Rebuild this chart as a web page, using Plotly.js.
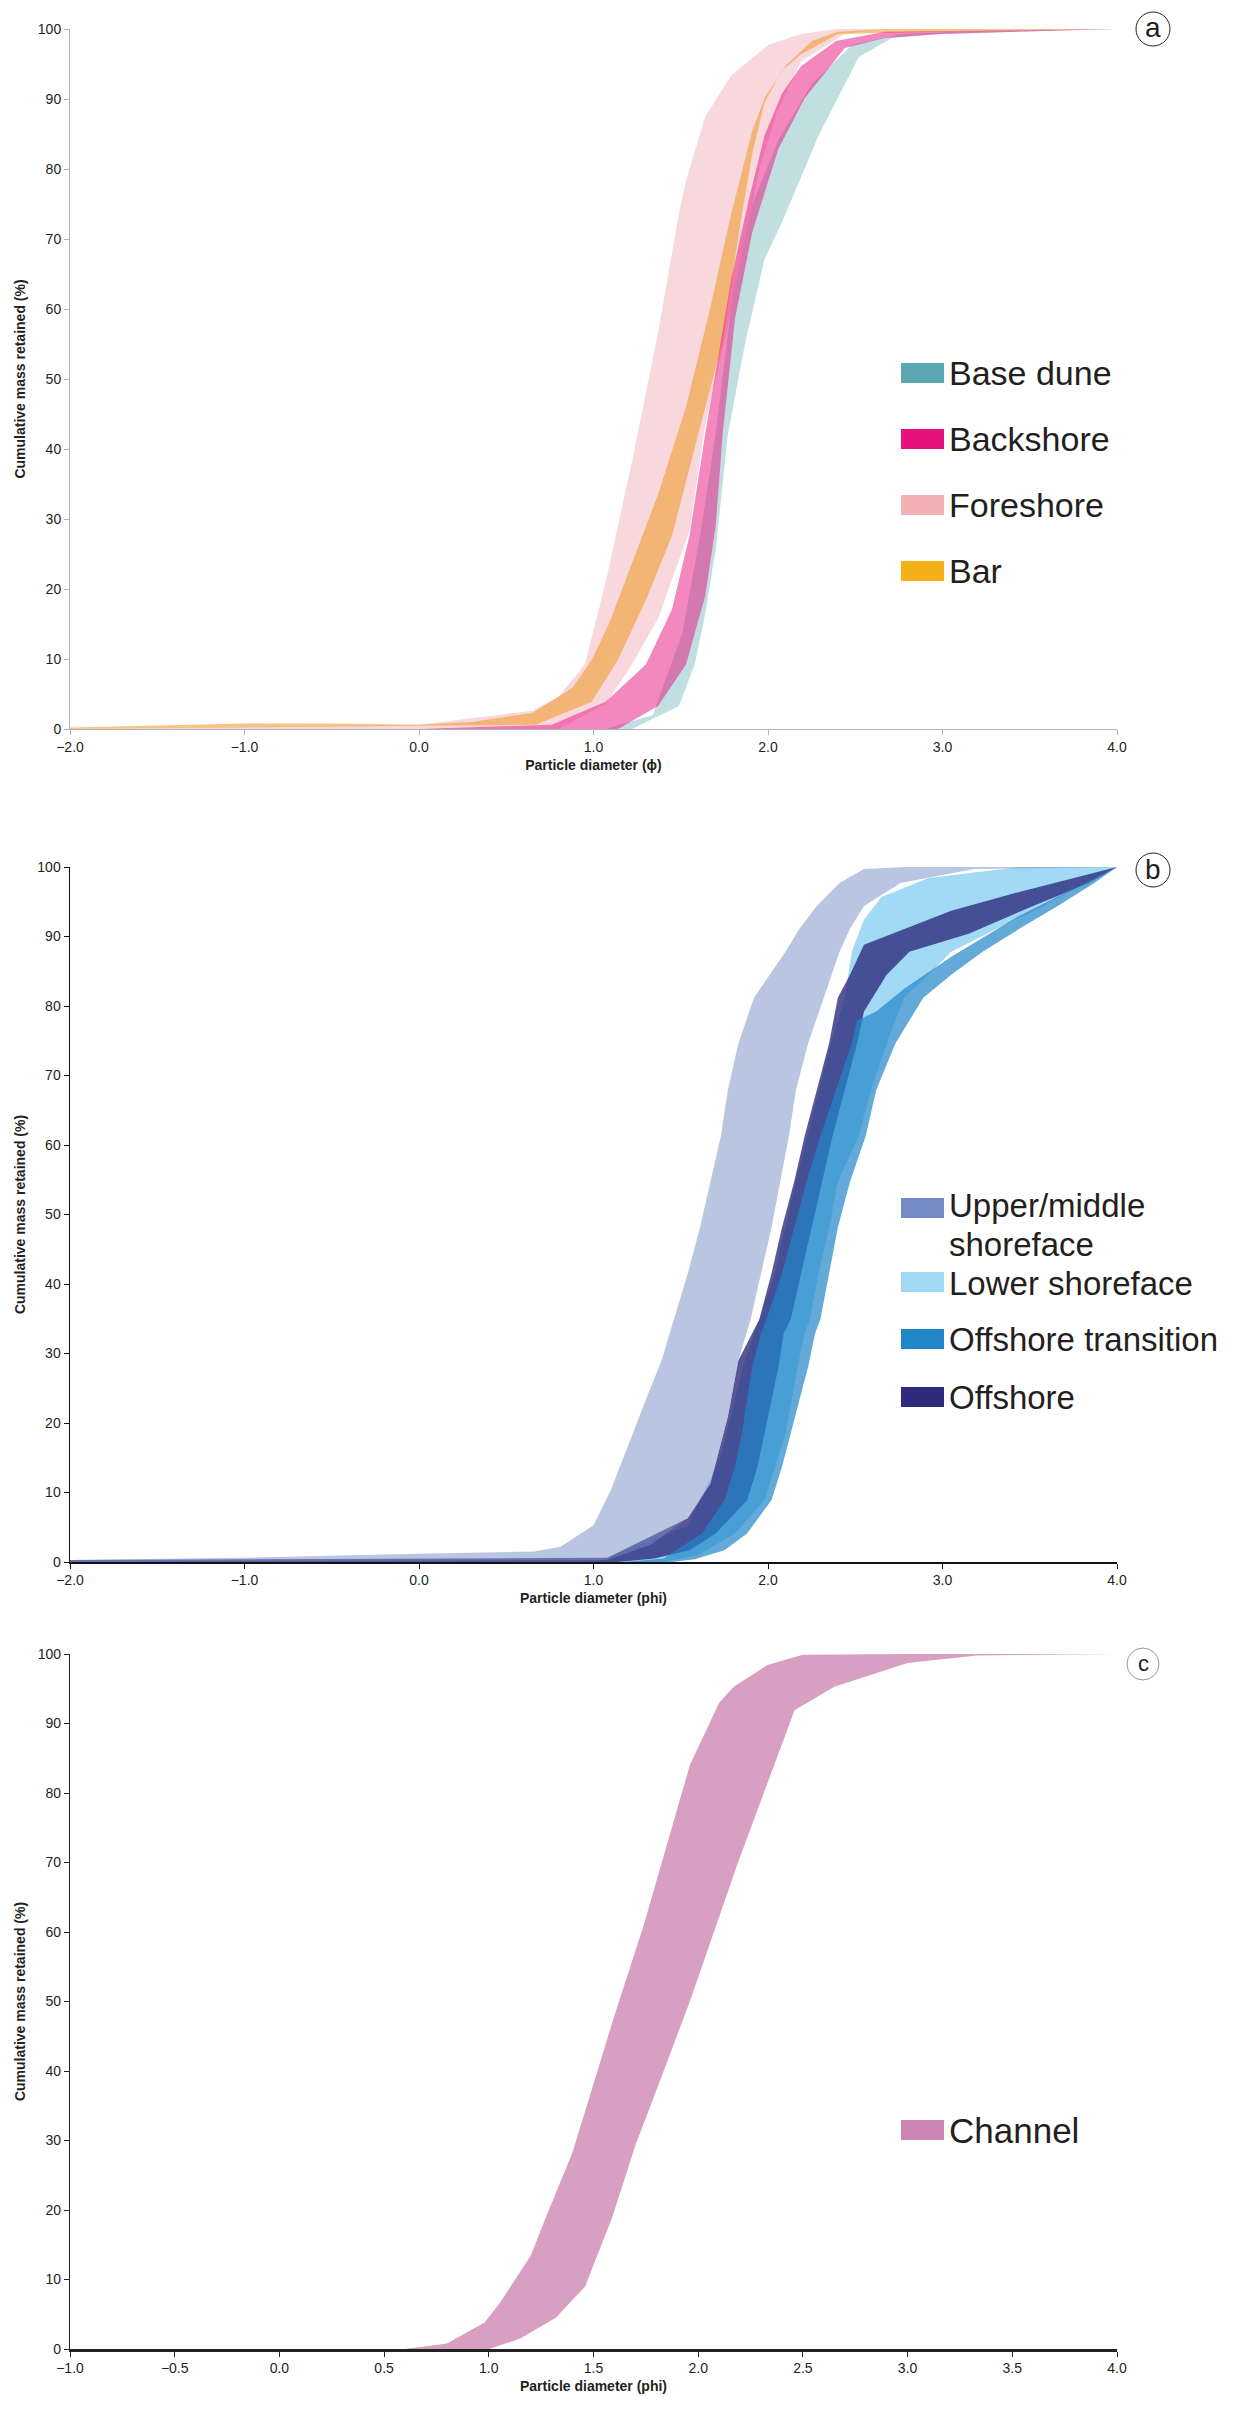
<!DOCTYPE html>
<html>
<head>
<meta charset="utf-8">
<script src="https://cdn.plot.ly/plotly-3.0.1.min.js"></script>
<style>
  html, body { margin: 0; padding: 0; background: #fff; }
  #chart { width: 1244px; height: 2410px; }
</style>
</head>
<body>
<div id="chart"></div>
<script>
// Panel a - coastal facies (upper = left edge of band, lower = right edge)
const baseDuneUpperX = [-2, 0, 1.07, 1.34, 1.51, 1.62, 1.70, 1.79, 1.91, 2.06, 2.25, 2.48, 2.77, 3.2, 4.0];
const baseDuneUpperY = [0, 0, 0, 2, 13.8, 29, 42.1, 60.5, 75, 84.2, 92.1, 97.7, 99.3, 99.7, 100];
const baseDuneLowerX = [-2, 1.22, 1.49, 1.58, 1.64, 1.70, 1.77, 1.87, 1.98, 2.08, 2.29, 2.52, 2.71, 3.0, 4.0];
const baseDuneLowerY = [0, 0, 3.3, 9.2, 16.4, 25.6, 42.1, 55.3, 67.1, 72.4, 84.8, 96.0, 98.7, 99.3, 100];

const foreshoreUpperX = [-2, 0, 0.65, 0.80, 0.95, 1.07, 1.22, 1.37, 1.49, 1.53, 1.64, 1.79, 2.0, 2.19, 2.39, 4.0];
const foreshoreUpperY = [0, 0.6, 2.6, 4.6, 9.2, 21, 38.1, 56.6, 73.7, 78.3, 87.5, 93.4, 97.7, 99.3, 100, 100];
const foreshoreLowerX = [-2, 0.8, 1.07, 1.22, 1.37, 1.55, 1.64, 1.76, 1.87, 1.95, 2.05, 2.19, 2.44, 2.67, 4.0];
const foreshoreLowerY = [0, 0, 3.6, 9.2, 15.8, 28.3, 43.4, 56.6, 70, 80, 88, 95.4, 99.3, 100, 100];

const barUpperX = [-2, -1, -0.5, 0, 0.3, 0.65, 0.88, 0.99, 1.09, 1.22, 1.37, 1.53, 1.66, 1.79, 1.91, 1.98, 2.10, 2.25, 2.40, 2.67, 4.0];
const barUpperY = [0.2, 0.8, 0.8, 0.6, 1.0, 2.3, 5.9, 9.9, 15.1, 23.7, 33.5, 46.0, 59.2, 73.7, 85.5, 90.1, 94.7, 98.3, 99.6, 100, 100];
const barLowerX = [-2, 0.67, 0.99, 1.14, 1.30, 1.45, 1.60, 1.74, 1.83, 1.91, 1.98, 2.08, 2.19, 2.40, 2.98, 4.0];
const barLowerY = [0, 0.6, 3.9, 9.9, 18.4, 27.6, 42.1, 55.3, 70.4, 82.2, 89.5, 94.1, 96.4, 99.3, 99.6, 100];

const backshoreUpperX = [-2, 0, 0.76, 1.07, 1.30, 1.45, 1.55, 1.64, 1.72, 1.79, 1.89, 1.98, 2.08, 2.19, 2.39, 2.67, 4.0];
const backshoreUpperY = [0, 0, 0.6, 3.9, 9.2, 17.1, 27.6, 42.1, 53.9, 64.4, 75.6, 84.8, 90.8, 94.7, 98.3, 99.6, 100];
const backshoreLowerX = [-2, 1.14, 1.37, 1.53, 1.64, 1.70, 1.74, 1.81, 1.91, 2.06, 2.21, 2.44, 2.67, 2.98, 4.0];
const backshoreLowerY = [0, 0, 3.3, 9.2, 19.0, 29.0, 42.1, 58.5, 71.0, 82.9, 90.1, 97.3, 98.7, 99.3, 100];

// Panel b - shoreface / offshore facies
const upperMidUpperX = [-2, -1, 0, 0.66, 0.81, 1.0, 1.10, 1.23, 1.31, 1.39, 1.46, 1.54, 1.61, 1.67, 1.73, 1.77, 1.83, 1.92, 2.10, 2.18, 2.28, 2.41, 2.55, 2.8, 4.0];
const upperMidUpperY = [0.3, 0.6, 1.2, 1.5, 2.2, 5.3, 10.4, 19, 24, 29, 34.9, 41.5, 48.1, 54.7, 61.3, 67.9, 74.6, 81.2, 87.8, 91.1, 94.4, 97.7, 99.7, 100, 100];
const upperMidLowerX = [-2, 1.08, 1.33, 1.54, 1.67, 1.77, 1.83, 1.90, 1.96, 2.02, 2.07, 2.12, 2.16, 2.23, 2.32, 2.41, 2.47, 2.55, 2.76, 3.18, 4.0];
const upperMidLowerY = [0, 0.3, 2.5, 6.3, 11.3, 20.9, 29, 34.9, 41.5, 48.1, 54.7, 61.3, 67.9, 74.6, 81.2, 87.8, 91.1, 94.4, 97.7, 99.7, 100];

const lowerShoreUpperX = [-2, 1.01, 1.54, 1.73, 1.86, 2.04, 2.16, 2.29, 2.36, 2.44, 2.48, 2.55, 2.65, 2.92, 3.44, 4.0];
const lowerShoreUpperY = [0, 0, 5.2, 15.1, 28.3, 41.5, 54.7, 67.9, 74.6, 81.2, 87.8, 92.4, 95.7, 98.4, 100, 100];
const lowerShoreLowerX = [-2, 1.40, 1.60, 1.81, 1.98, 2.04, 2.10, 2.17, 2.21, 2.24, 2.29, 2.35, 2.40, 2.52, 2.59, 2.68, 2.78, 2.92, 3.05, 3.31, 3.58, 3.82, 4.0];
const lowerShoreLowerY = [0, 0, 1.0, 4.1, 8.9, 13.7, 18.5, 28.1, 32.9, 34.9, 41.5, 48.1, 54.7, 61.3, 67.9, 74.6, 81.2, 84.5, 87.8, 91.1, 94.4, 97.7, 100];

const offshoreUpperX = [-2, 0, 1.08, 1.54, 1.67, 1.77, 1.83, 1.95, 2.02, 2.08, 2.15, 2.21, 2.28, 2.35, 2.40, 2.47, 2.55, 2.78, 3.05, 3.44, 4.0];
const offshoreUpperY = [0.3, 0.5, 0.6, 6.3, 11.3, 20.9, 29, 34.9, 41.5, 48.1, 54.7, 61.3, 67.9, 74.6, 81.2, 84.5, 88.8, 91.1, 93.7, 96.4, 100];
const offshoreLowerX = [-2, 1.14, 1.35, 1.55, 1.70, 1.88, 1.94, 1.98, 2.06, 2.09, 2.13, 2.19, 2.25, 2.31, 2.37, 2.44, 2.51, 2.55, 2.60, 2.68, 2.81, 3.15, 3.52, 3.84, 4.0];
const offshoreLowerY = [0, 0, 0.5, 1.7, 4.1, 8.9, 13.7, 18.5, 28.1, 32.9, 34.9, 41.5, 48.1, 54.7, 61.3, 67.9, 74.6, 79.2, 81.2, 84.5, 87.8, 90.4, 94.4, 97.7, 100];

const transitionUpperX = [-2, 1.17, 1.40, 1.62, 1.75, 1.81, 1.85, 1.91, 1.96, 1.99, 2.08, 2.15, 2.22, 2.30, 2.39, 2.48, 2.51, 2.62, 2.78, 3.05, 3.44, 4.0];
const transitionUpperY = [0, 0, 0.5, 4.1, 8.9, 13.7, 18.5, 28.1, 32.9, 34.9, 41.5, 48.1, 54.7, 61.3, 67.9, 74.6, 77.9, 79.2, 82.5, 87.1, 93.0, 100];
const transitionLowerX = [-2, 1.45, 1.58, 1.75, 1.88, 2.02, 2.08, 2.13, 2.23, 2.27, 2.30, 2.35, 2.40, 2.47, 2.56, 2.62, 2.73, 2.89, 3.05, 3.23, 3.44, 3.66, 3.87, 4.0];
const transitionLowerY = [0, 0, 0.4, 1.7, 4.1, 8.9, 13.7, 18.5, 28.1, 32.9, 34.9, 41.5, 48.1, 54.7, 61.3, 67.9, 74.6, 81.2, 84.5, 87.8, 91.1, 94.4, 97.7, 100];

// Panel c - channel
const channelUpperX = [0.6, 0.8, 0.98, 1.05, 1.2, 1.28, 1.4, 1.5, 1.6, 1.74, 1.96, 2.1, 2.17, 2.33, 2.5, 3.0, 4.0];
const channelUpperY = [0, 0.8, 3.8, 6.5, 13.4, 19.5, 28.3, 38, 48, 61, 84, 93, 95.3, 98.4, 99.9, 100, 100];
const channelLowerX = [1.0, 1.15, 1.32, 1.46, 1.59, 1.7, 1.81, 1.96, 2.19, 2.46, 2.65, 3.0, 3.33, 4.0];
const channelLowerY = [0, 1.5, 4.5, 9.0, 19, 29.3, 38, 50, 70, 91.9, 95.3, 98.7, 99.8, 100];

// Legend labels
const legendA = ['Base dune', 'Backshore', 'Foreshore', 'Bar'];
const legendB = ['Upper/middle', 'Lower shoreface', 'Offshore transition', 'Offshore'];
const legendC = ['Channel'];

const W = 1244, H = 2410;
const px = x => x / W;
const py = y => 1 - y / H;

function band(ux, uy, lx, ly, fill, xa, ya) {
    return {
        x: ux.concat(lx.slice().reverse()),
        y: uy.concat(ly.slice().reverse()),
        xaxis: xa, yaxis: ya,
        type: 'scatter', mode: 'lines',
        fill: 'toself', fillcolor: fill,
        line: { width: 0 },
        hoverinfo: 'skip', showlegend: false
    };
}

const traces = [
    band(baseDuneUpperX, baseDuneUpperY, baseDuneLowerX, baseDuneLowerY, 'rgba(91,168,177,0.38)', 'x', 'y'),
    band(foreshoreUpperX, foreshoreUpperY, foreshoreLowerX, foreshoreLowerY, 'rgba(238,158,168,0.4)', 'x', 'y'),
    band(barUpperX, barUpperY, barLowerX, barLowerY, 'rgba(240,158,50,0.6)', 'x', 'y'),
    band(backshoreUpperX, backshoreUpperY, backshoreLowerX, backshoreLowerY, 'rgba(232,18,127,0.5)', 'x', 'y'),

    band(lowerShoreUpperX, lowerShoreUpperY, lowerShoreLowerX, lowerShoreLowerY, 'rgb(162,217,245)', 'x2', 'y2'),
    band(offshoreUpperX, offshoreUpperY, offshoreLowerX, offshoreLowerY, 'rgba(46,44,125,0.8)', 'x2', 'y2'),
    band(transitionUpperX, transitionUpperY, transitionLowerX, transitionLowerY, 'rgba(33,134,200,0.7)', 'x2', 'y2'),
    band(upperMidUpperX, upperMidUpperY, upperMidLowerX, upperMidLowerY, 'rgba(117,139,198,0.5)', 'x2', 'y2'),

    band(channelUpperX, channelUpperY, channelLowerX, channelLowerY, 'rgba(204,132,176,0.78)', 'x3', 'y3')
];

const tickFont = { family: 'Liberation Sans, Arial, sans-serif', size: 14, color: '#231f20' };
const xTitleFont = { family: 'Liberation Sans, Arial, sans-serif', size: 14, color: '#231f20', weight: 'bold' };
const yTitleFont = { family: 'Liberation Sans, Arial, sans-serif', size: 14, color: '#231f20', weight: 'bold' };
const xDom = [px(70), px(1117)];

function xAxis(title, range, dtick, lineColor, lineWidth, anchor) {
    return {
        domain: xDom, range: range, dtick: dtick, tick0: range[0],
        tickformat: '.1f', anchor: anchor,
        showgrid: false, zeroline: false,
        showline: true, linecolor: lineColor, linewidth: lineWidth,
        ticks: 'outside', ticklen: 5, tickcolor: lineColor, tickwidth: 1,
        tickfont: tickFont,
        title: { text: title, font: xTitleFont, standoff: 6 }
    };
}

function yAxis(domain, lineColor, lineWidth, anchor) {
    return {
        domain: domain, range: [0, 100], dtick: 10, anchor: anchor,
        showgrid: false, zeroline: false,
        showline: true, linecolor: lineColor, linewidth: lineWidth,
        ticks: 'outside', ticklen: 5, tickcolor: lineColor, tickwidth: 1,
        tickfont: tickFont,
        title: { text: 'Cumulative mass retained (%)', font: yTitleFont, standoff: 8 }
    };
}

const shapes = [];
const annotations = [];
const legendFont = size => ({ family: 'Liberation Sans, Arial, sans-serif', size: size, color: '#231f20' });

function legendSwatch(color, cy) {
    shapes.push({
        type: 'rect', xref: 'paper', yref: 'paper',
        x0: px(901), x1: px(944), y0: py(cy + 10), y1: py(cy - 10),
        fillcolor: color, line: { width: 0 }
    });
}

function legendText(label, cy, size) {
    annotations.push({
        xref: 'paper', yref: 'paper', x: px(947), y: py(cy),
        xanchor: 'left', yanchor: 'middle', showarrow: false,
        text: label, font: legendFont(size)
    });
}

function panelLabel(letter, cx, cy, r, size, border) {
    shapes.push({
        type: 'circle', xref: 'paper', yref: 'paper',
        xsizemode: 'pixel', ysizemode: 'pixel',
        xanchor: px(cx), yanchor: py(cy),
        x0: -r, x1: r, y0: -r, y1: r,
        fillcolor: '#ffffff', line: { color: border, width: 1 }
    });
    annotations.push({
        xref: 'paper', yref: 'paper', x: px(cx), y: py(cy - 1),
        xanchor: 'center', yanchor: 'middle', showarrow: false,
        text: letter, font: legendFont(size)
    });
}

// legend a
const colorsA = ['#5ba8b1', '#e5127d', '#f4b1b5', '#f4b016'];
[373, 439, 505, 571].forEach((cy, i) => {
    legendSwatch(colorsA[i], cy);
    legendText(legendA[i], cy, 34);
});

// legend b (first label wraps onto a second line)
const colorsB = ['#758bc6', '#a0d8f3', '#2186c8', '#2e2c7d'];
const swatchB = [1208, 1282, 1339, 1397];
const textB = [1205, 1283, 1339, 1397];
swatchB.forEach((cy, i) => {
    legendSwatch(colorsB[i], cy);
    legendText(legendB[i], textB[i], 33);
});
legendText('shoreface', 1244, 33);

// legend c
legendSwatch('#cc84b0', 2130);
legendText(legendC[0], 2130, 35);

panelLabel('a', 1153, 29, 17, 28, '#222');
panelLabel('b', 1153, 870, 17, 28, '#222');
panelLabel('c', 1143, 1664, 16, 22, '#999');

const layout = {
    width: W, height: H,
    margin: { l: 0, r: 0, t: 0, b: 0 },
    paper_bgcolor: '#ffffff', plot_bgcolor: '#ffffff',
    showlegend: false,
    xaxis: xAxis('Particle diameter (ϕ)', [-2, 4], 1, '#b3b3b3', 1, 'y'),
    yaxis: yAxis([py(729), py(29)], '#b3b3b3', 1, 'x'),
    xaxis2: xAxis('Particle diameter (phi)', [-2, 4], 1, '#111', 1.5, 'y2'),
    yaxis2: yAxis([py(1562), py(867)], '#111', 1.5, 'x2'),
    xaxis3: xAxis('Particle diameter (phi)', [-1, 4], 0.5, '#222', 2.5, 'y3'),
    yaxis3: yAxis([py(2349), py(1654)], '#222', 1.2, 'x3'),
    shapes: shapes,
    annotations: annotations
};

Plotly.newPlot('chart', traces, layout, { displayModeBar: false, staticPlot: true });
</script>
</body>
</html>
